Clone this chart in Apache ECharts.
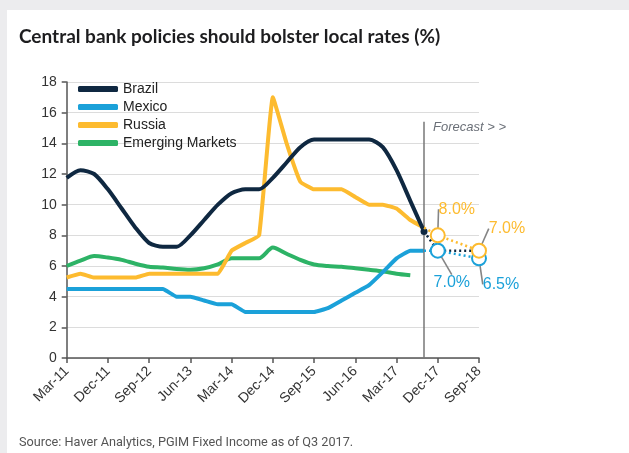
<!DOCTYPE html>
<html>
<head>
<meta charset="utf-8">
<script src="https://cdn.jsdelivr.net/npm/echarts@6/dist/echarts.min.js"></script>
<style>
  html, body { margin: 0; padding: 0; width: 629px; height: 453px; overflow: hidden; background: #ececee; }
  #card { position: absolute; left: 7px; top: 10px; right: 0; bottom: 0; background: #fff; }
  #chart { position: absolute; left: 0; top: 0; width: 629px; height: 453px; }
</style>
</head>
<body>
<div id="card"></div>
<div id="chart"></div>
<script>
// quarterly, Mar-11 .. Sep-18 (forecast starts after Sep-17)
const categories = ['Mar-11','Jun-11','Sep-11','Dec-11','Mar-12','Jun-12','Sep-12','Dec-12',
  'Mar-13','Jun-13','Sep-13','Dec-13','Mar-14','Jun-14','Sep-14','Dec-14','Mar-15','Jun-15',
  'Sep-15','Dec-15','Mar-16','Jun-16','Sep-16','Dec-16','Mar-17','Jun-17','Sep-17','Dec-17',
  'Mar-18','Jun-18','Sep-18'];
const yTicks = [0, 2, 4, 6, 8, 10, 12, 14, 16, 18];

const brazil = [11.75, 12.25, 12.0, 11.0, 9.75, 8.5, 7.5, 7.25, 7.25, 8.0, 9.0, 10.0, 10.75, 11.0,
  11.0, 11.75, 12.75, 13.75, 14.25, 14.25, 14.25, 14.25, 14.25, 13.75, 12.25, 10.25, 8.25];
const mexico = [4.5, 4.5, 4.5, 4.5, 4.5, 4.5, 4.5, 4.5, 4.0, 4.0, 3.75, 3.5, 3.5, 3.0, 3.0, 3.0,
  3.0, 3.0, 3.0, 3.25, 3.75, 4.25, 4.75, 5.6, 6.5, 7.0, 7.0];
const russia = [5.25, 5.5, 5.25, 5.25, 5.25, 5.25, 5.5, 5.5, 5.5, 5.5, 5.5, 5.5, 7.0, 7.5, 8.0,
  17.0, 14.0, 11.5, 11.0, 11.0, 11.0, 10.5, 10.0, 10.0, 9.75, 9.0, 8.5];
const emerging = [6.0, 6.35, 6.65, 6.55, 6.4, 6.15, 5.95, 5.9, 5.8, 5.75, 5.85, 6.1, 6.5, 6.5,
  6.5, 7.2, 6.8, 6.4, 6.1, 6.0, 5.95, 5.85, 5.75, 5.65, 5.5, 5.4];

// forecasts (Sep-17 actual, then Dec-17 .. Sep-18)
const forecastStart = 26;
const brazilFc = [8.25, 7.0, 7.0, 7.0, 7.0];
const russiaFc = [8.5, 8.0, null, null, 7.0];
const mexicoFc = [7.0, 7.0, null, null, 6.5];

const C = { brazil: '#0f2841', mexico: '#1ba1d9', russia: '#fdbb2f', em: '#2db366' };
const FONT = '"Liberation Sans", Arial, sans-serif';

// where the forecast labels sit relative to their circles
const labelShift = {
  russia: { 1: [19, -26], 4: [28, -22] },
  mexico: { 1: [14, 32], 4: [22, 26] }
};

function pad(fc) {
  const out = categories.map(() => null);
  fc.forEach((v, k) => { out[forecastStart + k] = v; });
  return out;
}

function fcSeries(name, fc, color, withLabels, z) {
  const data = pad(fc).map((v, i) => {
    if (v == null) return null;
    const k = i - forecastStart;
    const item = { value: v };
    if (k === 0) {
      item.symbol = 'circle'; item.symbolSize = 7;
      item.itemStyle = { color: color };
    } else if (withLabels) {
      item.symbol = 'circle'; item.symbolSize = 14;
      item.itemStyle = { color: '#fff', borderColor: color, borderWidth: 2 };
      item.label = {
        show: true, position: 'inside', color: color, fontSize: 16, fontFamily: FONT,
        formatter: (p) => p.value.toFixed(1) + '%'
      };
    } else {
      item.symbol = 'none';
    }
    return item;
  });
  return {
    name: name, type: 'line', data: data, connectNulls: true, z: z,
    showSymbol: true, smooth: false,
    lineStyle: { color: color, width: 2.5, type: [2, 3] },
    itemStyle: { color: color },
    labelLine: { show: true, lineStyle: { color: '#858585', width: 1.6 } },
    labelLayout: (p) => {
      if (!withLabels) return {};
      const s = labelShift[withLabels][p.dataIndex - forecastStart];
      return s ? { dx: s[0], dy: s[1] } : {};
    }
  };
}

const chart = echarts.init(document.getElementById('chart'), null, { renderer: 'canvas' });
chart.setOption({
  animation: false,
  backgroundColor: 'transparent',
  title: [
    {
      text: 'Central bank policies should bolster local rates (%)',
      left: 19, top: 27, padding: 0,
      textStyle: { fontFamily: 'Lato, "Noto Sans", sans-serif', fontSize: 19, fontWeight: 'bold', color: '#1d1d1f' }
    },
    {
      text: 'Source: Haver Analytics, PGIM Fixed Income as of Q3 2017.',
      left: 19, top: 436, padding: 0,
      textStyle: { fontFamily: 'Roboto, sans-serif', fontSize: 12.7, fontWeight: 'normal', color: '#555' }
    }
  ],
  legend: {
    data: ['Brazil', 'Mexico', 'Russia', 'Emerging Markets'],
    orient: 'vertical', left: 78, top: 82, padding: 0,
    itemWidth: 40, itemHeight: 6, itemGap: 4,
    icon: 'roundRect',
    textStyle: { fontFamily: FONT, fontSize: 14, color: '#222', lineHeight: 14 }
  },
  grid: { left: 66.7, right: 150, top: 82, bottom: 95 },
  xAxis: {
    type: 'category', data: categories, boundaryGap: false,
    axisLine: { lineStyle: { color: '#555', width: 1.5 } },
    axisTick: { interval: 2, length: 5, lineStyle: { color: '#555', width: 1.5 } },
    axisLabel: { interval: 2, rotate: 45, fontFamily: FONT, fontSize: 14, color: '#333', margin: 11 },
    splitLine: { show: false }
  },
  yAxis: {
    type: 'value', min: yTicks[0], max: yTicks[yTicks.length - 1], interval: 2,
    axisLine: { show: true, lineStyle: { color: '#555', width: 1.5 } },
    axisTick: { show: true, length: 5, lineStyle: { color: '#555', width: 1.5 } },
    axisLabel: { fontFamily: FONT, fontSize: 14, color: '#333', margin: 10 },
    splitLine: { lineStyle: { color: '#dcdcdc', width: 1 } }
  },
  series: [
    {
      name: 'Brazil', type: 'line', data: brazil, showSymbol: false, smooth: 0.25, z: 5,
      lineStyle: { color: C.brazil, width: 4 }, itemStyle: { color: C.brazil },
      markLine: {
        silent: true, symbol: ['none', 'none'], label: { show: false },
        lineStyle: { color: '#777', width: 1.5, type: 'solid' },
        data: [[{ coord: ['Sep-17', 0] }, { coord: ['Sep-17', 15.4] }]]
      }
    },
    {
      name: 'Mexico', type: 'line', data: mexico, showSymbol: false, smooth: 0.1, z: 4,
      lineStyle: { color: C.mexico, width: 4 }, itemStyle: { color: C.mexico }
    },
    {
      name: 'Russia', type: 'line', data: russia, showSymbol: false, smooth: 0.1, z: 3,
      lineStyle: { color: C.russia, width: 4 }, itemStyle: { color: C.russia }
    },
    {
      name: 'Emerging Markets', type: 'line', data: emerging, showSymbol: false, smooth: 0.25, z: 2,
      lineStyle: { color: C.em, width: 4 }, itemStyle: { color: C.em }
    },
    fcSeries('Brazil fc', brazilFc, C.brazil, false, 6),
    fcSeries('Mexico fc', mexicoFc, C.mexico, 'mexico', 7),
    fcSeries('Russia fc', russiaFc, C.russia, 'russia', 8)
  ],
  graphic: [{
    type: 'text', left: 433, top: 121,
    style: { text: 'Forecast > >', font: 'italic 13px "Liberation Sans", Arial, sans-serif', fill: '#6b7078' }
  }]
});
</script>
</body>
</html>
